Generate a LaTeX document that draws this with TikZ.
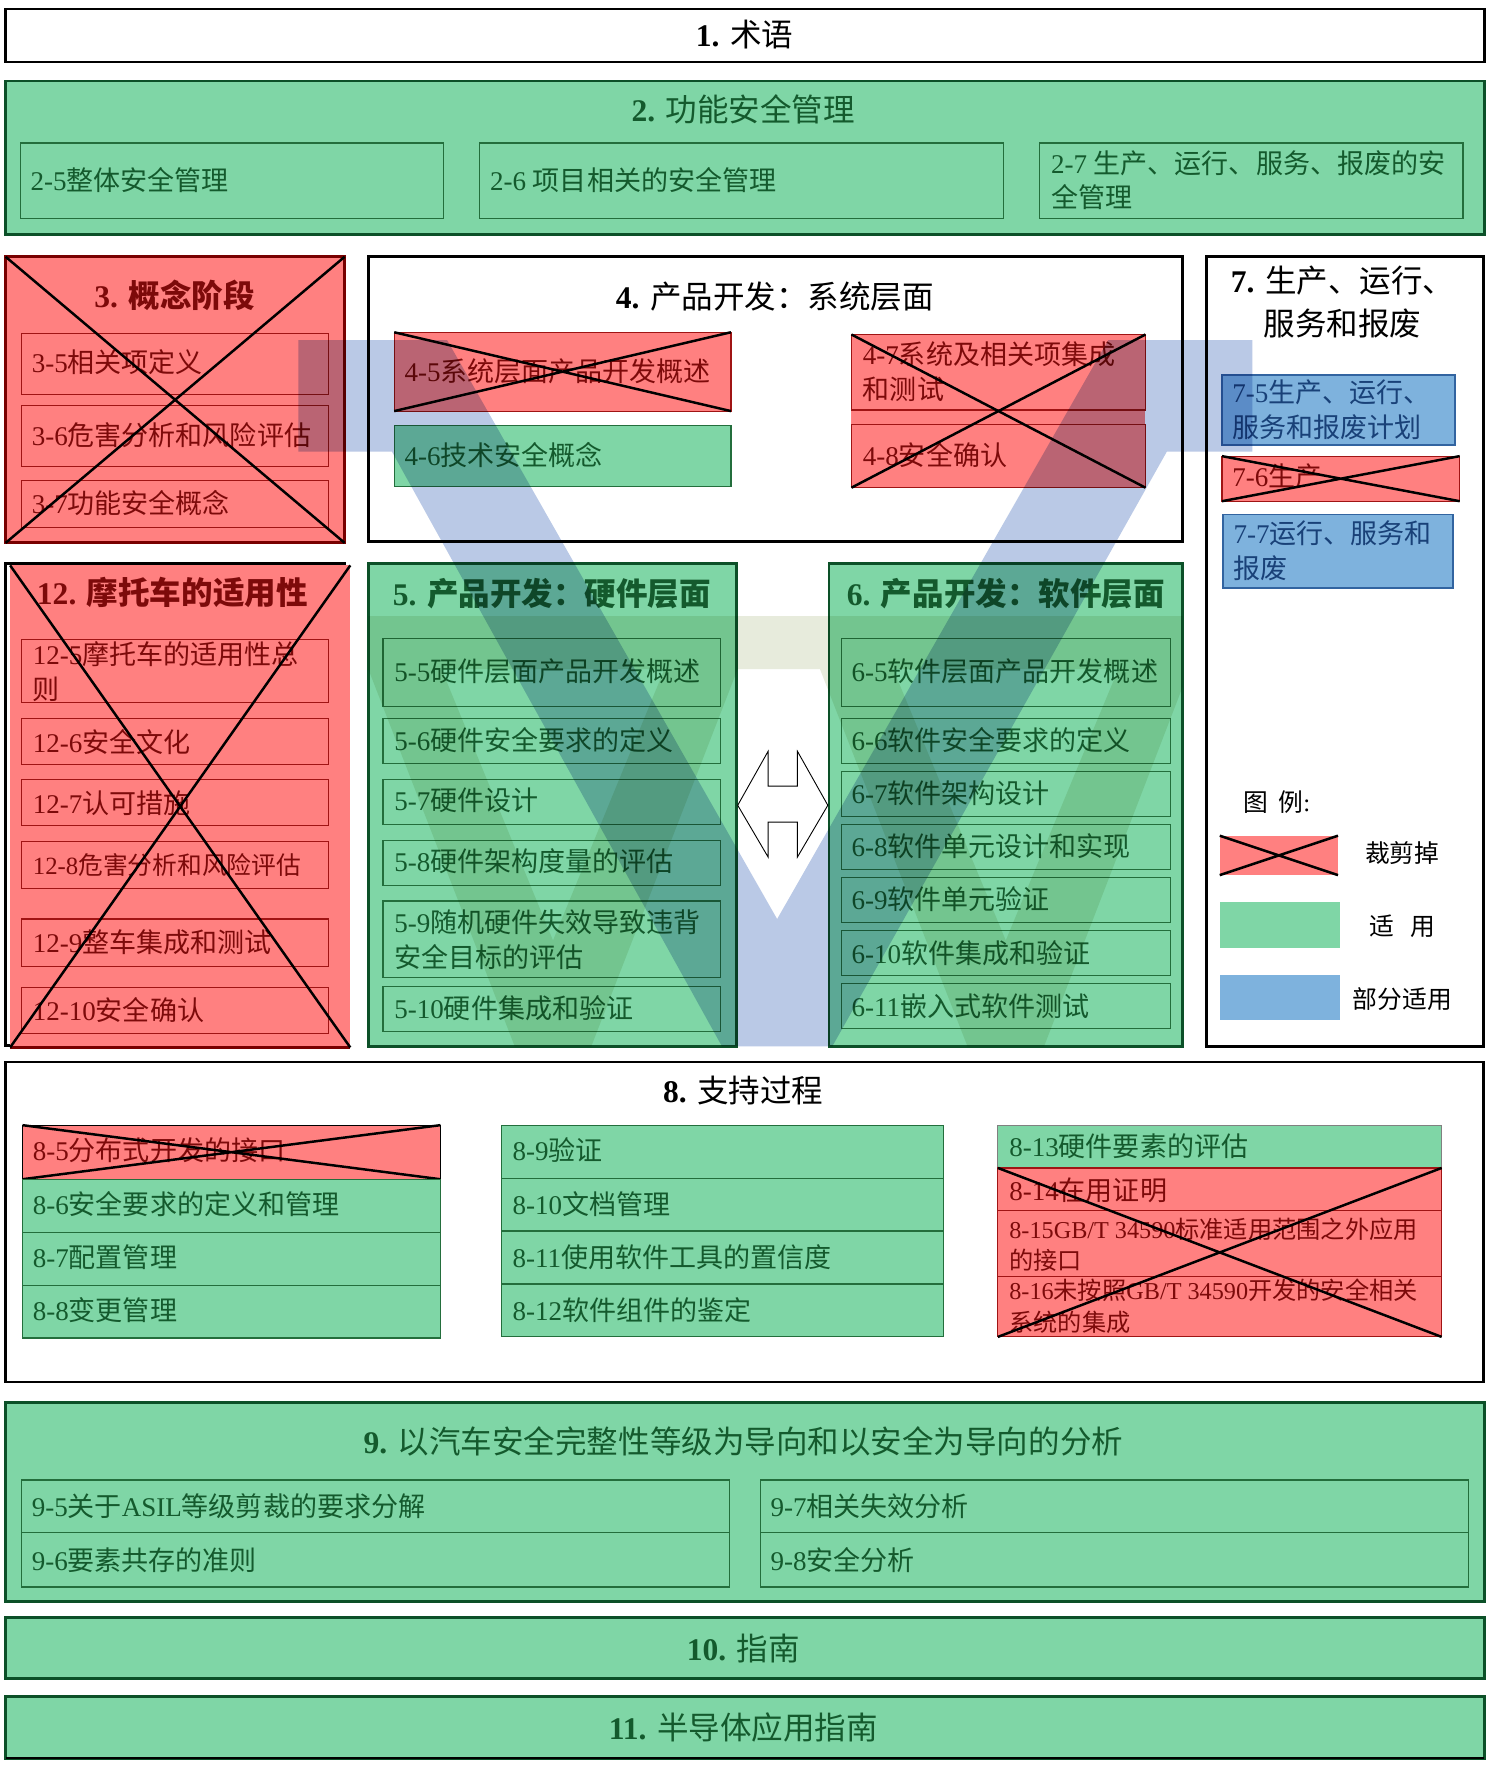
\documentclass[tikz,border=0pt]{standalone}
\usepackage{fontspec}
\setmainfont{Liberation Serif}
\newfontfamily\cjk{Noto Sans CJK SC}
\newcommand\C[1]{{\cjk #1}}
\newcommand\CB[1]{{\cjk\bfseries #1}}
\definecolor{gfill}{RGB}{127,214,166}
\definecolor{gline}{RGB}{35,110,60}
\definecolor{gdark}{RGB}{12,80,40}
\definecolor{tG}{RGB}{20,90,45}
\definecolor{rfill}{RGB}{255,128,128}
\definecolor{rline}{RGB}{160,20,20}
\definecolor{rdark}{RGB}{120,0,0}
\definecolor{tR}{RGB}{125,10,10}
\definecolor{bfill}{RGB}{126,178,221}
\definecolor{bline}{RGB}{50,100,160}
\definecolor{tB}{RGB}{25,65,120}
\definecolor{vblue}{RGB}{186,201,230}
\definecolor{beige}{RGB}{231,235,220}
\newcommand\Bx[6]{%
  \pgfmathsetmacro\myW{#4-#2}\pgfmathsetmacro\myH{#5-#3}%
  \node[rectangle,inner sep=0pt,outer sep=0pt,minimum width=\myW pt,minimum height=\myH pt,#6] (#1) at ({(#2+#4)/2},{(#3+#5)/2}) {};}
\begin{document}
\begin{tikzpicture}[x=1pt,y=-1pt,
  outerW/.style={draw=black,line width=2.5pt,fill=white},
  outerG/.style={draw=gdark,line width=2.5pt,fill=gfill},
  outerR/.style={draw=rdark,line width=2.5pt,fill=rfill},
  subG/.style={draw=gline,line width=1pt,fill=gfill},
  subR/.style={draw=rline,line width=1pt,fill=rfill},
  subB/.style={draw=bline,line width=1.2pt,fill=bfill},
  xline/.style={black,line width=2.2pt},
  ttl/.style={font=\fontsize{28}{38}\selectfont,inner sep=0pt,align=center},
  itm/.style={font=\fontsize{24}{31}\selectfont,inner sep=0pt,anchor=west,align=left},
  itms/.style={font=\fontsize{22}{31}\selectfont,inner sep=0pt,anchor=west,align=left},
  sml/.style={font=\fontsize{21.5}{28}\selectfont,inner sep=0pt,anchor=west,align=left},
  lgd/.style={font=\fontsize{22}{28}\selectfont,inner sep=0pt}]
\useasboundingbox (0,0) rectangle (1326,1568);
\fill[white] (0,0) rectangle (1326,1568);

% ---------- 1
\Bx{b1}{5}{8}{1318}{55}{outerW}
\node[ttl] (t1) at (661,31) {\textbf{1.} \C{术语}};

% ---------- 2
\Bx{b2}{5}{72}{1318}{208}{outerG}
\node[ttl,text=tG] (t2) at (660,97) {\textbf{2.} \C{功能安全管理}};
\Bx{b25}{18}{127}{394}{194}{subG}
\node[itm,text=tG] (t25) at (27,160) {2-5\C{整体安全管理}};
\Bx{b26}{426}{127}{891}{194}{subG}
\node[itm,text=tG] (t26) at (435,160) {2-6 \C{项目相关的安全管理}};
\Bx{b27}{923}{127}{1299}{194}{subG}
\node[itm,text=tG] (t27) at (933,160) {2-7 \C{生产、运行、服务、报废的安}\\\C{全管理}};

% ---------- 3
\Bx{b3}{5}{228}{306}{482}{outerR}
\node[ttl,text=tR] (t3) at (155,262) {\textbf{3.} \CB{概念阶段}};
\Bx{b35}{19}{296}{292}{350}{subR}
\node[itm,text=tR] (t35) at (28,322) {3-5\C{相关项定义}};
\Bx{b36}{19}{360}{292}{414}{subR}
\node[itm,text=tR] (t36) at (28,386) {3-6\C{危害分析和风险评估}};
\Bx{b37}{19}{427}{292}{468}{subR}
\node[itm,text=tR] (t37) at (28,447) {3-7\C{功能安全概念}};
\draw[xline] (b3.north west) -- (b3.south east) (b3.south west) -- (b3.north east);

% ---------- 4
\Bx{b4}{327}{228}{1050}{481}{outerW}
\node[ttl] (t4) at (688,263) {\textbf{4.} \C{产品开发：系统层面}};
\Bx{b45}{350}{295}{649}{365}{subR}
\node[itm,text=tR] (t45) at (359,330) {4-5\C{系统层面产品开发概述}};
\draw[xline] (b45.north west) -- (b45.south east) (b45.south west) -- (b45.north east);
\Bx{b46}{350}{378}{649}{432}{subG}
\node[itm,text=tG] (t46) at (359,404) {4-6\C{技术安全概念}};
\Bx{b4x}{756}{297}{1017}{433}{fill=rfill}
\Bx{b47}{756}{297}{1017}{364}{draw=rline,line width=1pt}
\node[itm,text=tR] (t47) at (766,330) {4-7\C{系统及相关项集成}\\\C{和测试}};
\Bx{b48}{756}{377}{1017}{433}{draw=rline,line width=1pt}
\node[itm,text=tR] (t48) at (766,404) {4-8\C{安全确认}};
\draw[xline] (b4x.north west) -- (b4x.south east) (b4x.south west) -- (b4x.north east);

% ---------- 7
\Bx{b7}{1071}{228}{1317}{929}{outerW}
\node[ttl] (t7) at (1192,268) {\textbf{7.} \C{生产、运行、}\\\C{服务和报废}};
\Bx{b75}{1085}{333}{1292}{395}{subB}
\node[itm,text=tB] (t75) at (1094,364) {7-5\C{生产、运行、}\\\C{服务和报废计划}};
\Bx{b76}{1085}{405}{1296}{445}{subR}
\node[itm,text=tR] (t76) at (1094,423) {7-6\C{生产}};
\draw[xline] (b76.north west) -- (b76.south east) (b76.south west) -- (b76.north east);
\Bx{b77}{1086}{457}{1290}{522}{subB}
\node[itm,text=tB] (t77) at (1095,489) {7-7\C{运行、服务和}\\\C{报废}};
% legend
\node[lgd,anchor=west] (tlg) at (1104,712) {{\cjk 图\hspace{9pt}例}:};
\Bx{lgR}{1083}{742}{1188}{777}{fill=rfill}
\draw[xline] (lgR.north west) -- (lgR.south east) (lgR.south west) -- (lgR.north east);
\node[lgd] (tlr) at (1245,757) {\C{裁剪掉}};
\Bx{lgG}{1083}{801}{1190}{842}{fill=gfill}
\node[lgd] (tlgg) at (1245,822) {{\cjk 适\hspace{14pt}用}};
\Bx{lgB}{1083}{866}{1190}{906}{fill=bfill}
\node[lgd] (tlb) at (1245,887) {\C{部分适用}};

% ---------- 12
\Bx{b12k}{5}{500}{306}{928}{draw=black,line width=2.5pt}
\Bx{b12}{9}{502}{311}{930}{fill=rfill}
\draw[rdark,line width=2.5pt] (b12.south west) -- (b12.south east);
\node[ttl,text=tR] (t12) at (153,526) {\textbf{12.} \CB{摩托车的适用性}};
\Bx{b125}{19}{568}{292}{624}{subR}
\node[itm,text=tR] (t125) at (29,596) {12-5\C{摩托车的适用性总}\\\C{则}};
\Bx{b126}{19}{638}{292}{679}{subR}
\node[itm,text=tR] (t126) at (29,659) {12-6\C{安全文化}};
\Bx{b127}{19}{692}{292}{733}{subR}
\node[itm,text=tR] (t127) at (29,713) {12-7\C{认可措施}};
\Bx{b128}{19}{747}{292}{789}{subR}
\node[itms,text=tR] (t128) at (29,768) {12-8\C{危害分析和风险评估}};
\Bx{b129}{19}{816}{292}{858}{subR}
\node[itm,text=tR] (t129) at (29,837) {12-9\C{整车集成和测试}};
\Bx{b1210}{19}{877}{292}{918}{subR}
\node[itm,text=tR] (t1210) at (29,897) {12-10\C{安全确认}};
\draw[xline] (b12.north west) -- (b12.south east) (b12.south west) -- (b12.north east);

% ---------- 5
\Bx{b5}{327}{500}{654}{929}{outerG}
\node[ttl,text=tG] (t5) at (490,527) {\textbf{5.} \CB{产品开发：硬件层面}};
\Bx{b55}{340}{567}{640}{627}{subG}
\node[itm,text=tG] (t55) at (350,596) {5-5\C{硬件层面产品开发概述}};
\Bx{b56}{340}{638}{640}{678}{subG}
\node[itm,text=tG] (t56) at (350,657) {5-6\C{硬件安全要求的定义}};
\Bx{b57}{340}{692}{640}{732}{subG}
\node[itm,text=tG] (t57) at (350,711) {5-7\C{硬件设计}};
\Bx{b58}{340}{746}{640}{786}{subG}
\node[itm,text=tG] (t58) at (350,765) {5-8\C{硬件架构度量的评估}};
\Bx{b59}{340}{800}{640}{868}{subG}
\node[itm,text=tG] (t59) at (350,834) {5-9\C{随机硬件失效导致违背}\\\C{安全目标的评估}};
\Bx{b510}{340}{876}{640}{916}{subG}
\node[itm,text=tG] (t510) at (350,895) {5-10\C{硬件集成和验证}};

% ---------- 6
\Bx{b6}{736}{500}{1050}{929}{outerG}
\node[ttl,text=tG] (t6) at (893,527) {\textbf{6.} \CB{产品开发：软件层面}};
\Bx{b65}{747}{567}{1039}{627}{subG}
\node[itm,text=tG] (t65) at (756,596) {6-5\C{软件层面产品开发概述}};
\Bx{b66}{747}{638}{1039}{678}{subG}
\node[itm,text=tG] (t66) at (756,657) {6-6\C{软件安全要求的定义}};
\Bx{b67}{747}{685}{1039}{725}{subG}
\node[itm,text=tG] (t67) at (756,704) {6-7\C{软件架构设计}};
\Bx{b68}{747}{732}{1039}{772}{subG}
\node[itm,text=tG] (t68) at (756,751) {6-8\C{软件单元设计和实现}};
\Bx{b69}{747}{779}{1039}{819}{subG}
\node[itm,text=tG] (t69) at (756,798) {6-9\C{软件单元验证}};
\Bx{b610}{747}{826}{1039}{866}{subG}
\node[itm,text=tG] (t610) at (756,846) {6-10\C{软件集成和验证}};
\Bx{b611}{747}{873}{1039}{913}{subG}
\node[itm,text=tG] (t611) at (756,893) {6-11\C{嵌入式软件测试}};

% ---------- 8
\Bx{b8}{5}{943}{1317}{1227}{outerW}
\node[ttl] (t8) at (660,968) {\textbf{8.} \C{支持过程}};
\Bx{b85}{20}{999}{391}{1047}{subR,draw=black}
\node[itm,text=tR] (t85) at (29,1021) {8-5\C{分布式开发的接口}};
\draw[xline] (b85.north west) -- (b85.south east) (b85.south west) -- (b85.north east);
\Bx{b86}{20}{1047}{391}{1094}{subG}
\node[itm,text=tG] (t86) at (29,1069) {8-6\C{安全要求的定义和管理}};
\Bx{b87}{20}{1094}{391}{1141}{subG}
\node[itm,text=tG] (t87) at (29,1116) {8-7\C{配置管理}};
\Bx{b88}{20}{1141}{391}{1188}{subG}
\node[itm,text=tG] (t88) at (29,1163) {8-8\C{变更管理}};
\Bx{b89}{445}{999}{838}{1046}{subG}
\node[itm,text=tG] (t89) at (455,1021) {8-9\C{验证}};
\Bx{b810}{445}{1046}{838}{1093}{subG}
\node[itm,text=tG] (t810) at (455,1069) {8-10\C{文档管理}};
\Bx{b811}{445}{1093}{838}{1140}{subG}
\node[itm,text=tG] (t811) at (455,1116) {8-11\C{使用软件工具的置信度}};
\Bx{b812}{445}{1140}{838}{1187}{subG}
\node[itm,text=tG] (t812) at (455,1163) {8-12\C{软件组件的鉴定}};
\Bx{b813}{886}{999}{1280}{1037}{subG,draw=gray}
\node[itm,text=tG] (t813) at (896,1018) {8-13\C{硬件要素的评估}};
\Bx{b814}{886}{1037}{1280}{1075}{subR}
\node[itm,text=tR] (t814) at (896,1057) {8-14\C{在用证明}};
\Bx{b815}{886}{1075}{1280}{1133}{subR}
\node[sml,text=tR] (t815) at (896,1105) {8-15GB/T 34590\C{标准适用范围之外应用}\\\C{的接口}};
\Bx{b816}{886}{1133}{1280}{1187}{subR}
\node[sml,text=tR] (t816) at (896,1160) {8-16\C{未按照}GB/T 34590\C{开发的安全相关}\\\C{系统的集成}};
\draw[xline] (b814.north west) -- (b816.south east) (b816.south west) -- (b814.north east);

% ---------- 9
\Bx{b9}{5}{1245}{1318}{1422}{outerG}
\node[ttl,text=tG] (t9) at (660,1280) {\textbf{9.} \C{以汽车安全完整性等级为导向和以安全为导向的分析}};
\Bx{b95}{19}{1314}{648}{1361}{subG}
\node[itm,text=tG] (t95) at (28,1337) {9-5\C{关于}ASIL\C{等级剪裁的要求分解}};
\Bx{b96}{19}{1361}{648}{1409}{subG}
\node[itm,text=tG] (t96) at (28,1385) {9-6\C{要素共存的准则}};
\Bx{b97}{675}{1314}{1304}{1361}{subG}
\node[itm,text=tG] (t97) at (684,1337) {9-7\C{相关失效分析}};
\Bx{b98}{675}{1361}{1304}{1409}{subG}
\node[itm,text=tG] (t98) at (684,1385) {9-8\C{安全分析}};

% ---------- 10, 11
\Bx{b10}{5}{1436}{1318}{1490}{outerG}
\node[ttl,text=tG] (t10) at (660,1464) {\textbf{10.} \C{指南}};
\Bx{b11}{5}{1506}{1318}{1561}{outerG}
\draw[black,line width=1.5pt] (b11.south west) -- (b11.south east);
\node[ttl,text=tG] (t11) at (660,1534) {\textbf{11.} \C{半导体应用指南}};

% ---------- V model background (multiplied)
\begin{scope}[blend mode=multiply]
\fill[beige] (327,547) rectangle (1050,594)
  (327,594) -- (392,594) -- (491,835) -- (590,594) -- (655,594) -- (525,929) -- (457,929) -- cycle
  (728,594) -- (793,594) -- (893,835) -- (993,594) -- (1050,594) -- (1050,610) -- (927,929) -- (859,929) -- cycle;
\fill[vblue] (265,302) -- (397,302) -- (690,816) -- (984,302) -- (1112,302) -- (1112,401)
  -- (1036,401) -- (739,929) -- (641,929) -- (348,401) -- (265,401) -- cycle;
\end{scope}

% ---------- double arrow
\draw[black,line width=0.8pt,fill=white] (655,715) -- (682,667) -- (682,698) -- (708,698) -- (708,667)
  -- (735,715) -- (708,761) -- (708,730) -- (682,730) -- (682,761) -- cycle;
\end{tikzpicture}
\end{document}
